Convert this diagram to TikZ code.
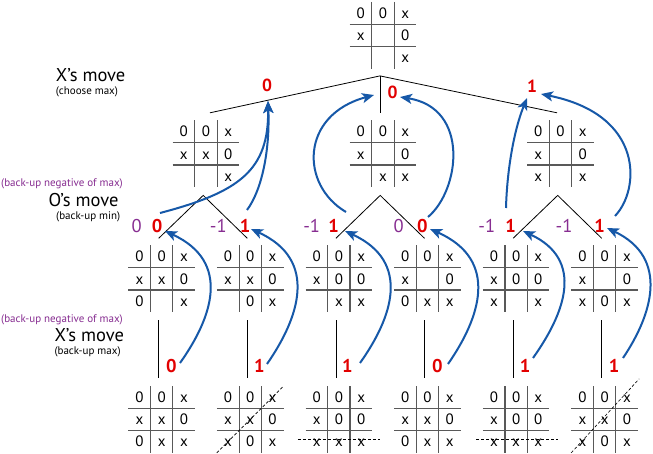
\documentclass[tikz,border=0pt]{standalone}
\usepackage{fontspec}
\setmainfont{PT Sans}
\usetikzlibrary{arrows.meta,calc}
\definecolor{valred}{RGB}{226,0,0}
\definecolor{negpurple}{RGB}{135,45,145}
\definecolor{arrowblue}{RGB}{22,88,168}
\tikzset{
  boardbox/.style={inner sep=0pt,minimum size=66.7pt},
  gridline/.style={draw=black!65,line width=1.2pt},
  cell/.style={anchor=base,inner sep=0pt,font=\fontsize{15}{17}\selectfont},
  treeline/.style={draw=black,line width=0.8pt},
  redval/.style={anchor=base,inner sep=0pt,text=valred,font=\bfseries\fontsize{18.5}{20}\selectfont},
  topval/.style={redval,font=\bfseries\fontsize{17.5}{20}\selectfont},
  negval/.style={anchor=base,inner sep=0pt,text=negpurple,font=\fontsize{18.5}{20}\selectfont},
  lvlbig/.style={anchor=base west,inner sep=0pt,font=\fontsize{18.5}{20}\selectfont},
  lvlsmall/.style={anchor=base west,inner sep=0pt,font=\fontsize{11}{12}\selectfont},
  lvlneg/.style={anchor=base west,inner sep=0pt,text=negpurple,font=\fontsize{11}{12}\selectfont},
  backup/.style={draw=arrowblue,line width=2pt,-{Stealth[length=12pt,width=10pt,inset=3pt]}},
  winline/.style={draw=black,line width=0.6pt,dash pattern=on 3pt off 2pt}
}
\newcommand\tttb[4]{%
  \begin{scope}[shift={(#2,#3)}]
    \node[boardbox] (#1) at (0,33.35) {};
    \draw[gridline] (-11.12,0) -- (-11.12,66.7) (11.12,0) -- (11.12,66.7)
      (-33.35,22.23) -- (33.35,22.23) (-33.35,44.47) -- (33.35,44.47);
    \foreach \a/\b/\c [count=\r] in {#4} {
      \node[cell] (#1-\r-1) at (-22.23,\r*22.23-5.8) {\a};
      \node[cell] (#1-\r-2) at (0,\r*22.23-5.8) {\b};
      \node[cell] (#1-\r-3) at (22.23,\r*22.23-5.8) {\c};
    }
  \end{scope}}
\begin{document}
\begin{tikzpicture}[x=1pt,y=-1pt]
\path[fill=white,use as bounding box] (0,0) rectangle (653,454);

% boards
\tttb{T}{383}{2}{0/0/x, x/{}/0, {}/{}/x}
\tttb{b21}{206}{120.5}{0/0/x, x/x/0, {}/{}/x}
\tttb{b22}{383}{120.5}{0/0/x, x/{}/0, {}/x/x}
\tttb{b23}{560.5}{120.5}{0/0/x, x/{}/0, x/{}/x}
\tttb{b41}{161.7}{245.5}{0/0/x, x/x/0, 0/{}/x}
\tttb{b42}{250.3}{245.5}{0/0/x, x/x/0, {}/0/x}
\tttb{b43}{338.9}{245.5}{0/0/x, x/0/0, {}/x/x}
\tttb{b44}{427.5}{245.5}{0/0/x, x/{}/0, 0/x/x}
\tttb{b45}{516.1}{245.5}{0/0/x, x/0/0, x/{}/x}
\tttb{b46}{604.7}{245.5}{0/0/x, x/{}/0, x/0/x}
\tttb{b61}{161.7}{386}{0/0/x, x/x/0, 0/x/x}
\tttb{b62}{250.3}{386}{0/0/x, x/x/0, x/0/x}
\tttb{b63}{338.9}{386}{0/0/x, x/0/0, x/x/x}
\tttb{b64}{427.5}{386}{0/0/x, x/x/0, 0/x/x}
\tttb{b65}{516.1}{386}{0/0/x, x/0/0, x/x/x}
\tttb{b66}{604.7}{386}{0/0/x, x/x/0, x/0/x}

% winning lines
\draw[winline] (b62.south west) -- (b62.north east);
\draw[winline] (b66.south west) -- ($(b66.north east)+(1,-7)$);
\draw[winline] ($(b63.south west)+(-7.5,-13.2)$) -- ($(b63.south east)+(7.5,-13.2)$);
\draw[winline] ($(b65.south west)+(-6.5,-13.2)$) -- ($(b65.south east)+(8.5,-13.2)$);

% level 1 tree
\coordinate (a0) at ($(T.south)+(-3,7)$);
\draw[treeline] ($(b21.north)+(4,-7.5)$) -- (a0) -- ($(b23.north)+(-3.5,-7.5)$);
\draw[treeline] (a0) -- ($(b22.north)+(-3,-7.5)$);

% level 3 trees
\foreach \p/\l/\r in {b21/b41/b42, b22/b43/b44, b23/b45/b46} {
  \draw[treeline] ($(\l.north)+(-3,-7)$) -- ($(\p.south)+(-2.8,8)$) -- ($(\r.north)+(-3,-7)$);
}
% level 5 lines
\foreach \u/\d in {b41/b61, b42/b62, b43/b63, b44/b64, b45/b65, b46/b66} {
  \draw[treeline] ($(\u.south)+(-3,8)$) -- ($(\d.north)+(-3,-8)$);
}

% values, level 1
\node[topval] (v1a) at (267,91.5) {0};
\node[topval] (v1b) at (392.7,99) {0};
\node[topval] (v1c) at (532,92.2) {1};
% values, level 3
\node[negval] (n3a) at (136.7,233) {0};
\node[redval] (v3a) at (157,233) {0};
\node[negval] (n3b) at (218.3,233) {-1};
\node[redval] (v3b) at (245,233) {1};
\node[negval] (n3c) at (311.7,233) {-1};
\node[redval] (v3c) at (333.7,233) {1};
\node[negval] (n3d) at (398.7,233) {0};
\node[redval] (v3d) at (422.3,233) {0};
\node[negval] (n3e) at (486.8,233) {-1};
\node[redval] (v3e) at (510.5,233) {1};
\node[negval] (n3f) at (564,233) {-1};
\node[redval] (v3f) at (599.5,233) {1};
% values, level 5
\node[redval] (v5a) at (171.3,372.2) {0};
\node[redval] (v5b) at (259.3,372.2) {1};
\node[redval] (v5c) at (347.3,372.2) {1};
\node[redval] (v5d) at (437.3,372.2) {0};
\node[redval] (v5e) at (525,372.2) {1};
\node[redval] (v5f) at (614,372.2) {1};

% level captions
\node[lvlbig] (cap1) at (55.7,81.7) {X’s move};
\node[lvlsmall] (cap1s) at (55.7,94.5) {(choose max)};
\node[lvlneg] (cap2n) at (1,186.5) {(back-up negative of max)};
\node[lvlbig] (cap2) at (48.3,206.7) {O’s move};
\node[lvlsmall] (cap2s) at (56,219.5) {(back-up min)};
\node[lvlneg] (cap3n) at (1,322.5) {(back-up negative of max)};
\node[lvlbig] (cap3) at (54.3,341.7) {X’s move};
\node[lvlsmall] (cap3s) at (54.3,354.7) {(back-up max)};

% arrow end points
\coordinate (s5a) at (180,363);   \coordinate (e5a) at (165,231);
\coordinate (s5b) at (267,364);   \coordinate (e5b) at (251,229);
\coordinate (s5c) at (360,363);   \coordinate (e5c) at (345,231);
\coordinate (s5d) at (448,364);   \coordinate (e5d) at (430,229);
\coordinate (s5e) at (533,358);   \coordinate (e5e) at (523,231);
\coordinate (s5f) at (623,358);   \coordinate (e5f) at (607,228);
\coordinate (s3a) at (160,213);   \coordinate (e1a) at (268,101);
\coordinate (s3b) at (247,210);
\coordinate (s3c) at (346,212);   \coordinate (e1b) at (374,95);
\coordinate (s3d) at (428,217);   \coordinate (e1c) at (400,97);
\coordinate (s3e) at (506,208);   \coordinate (e1d) at (527,98);
\coordinate (s3f) at (615,216);   \coordinate (e1e) at (541,94);

% back-up arrows, level 5 -> level 3
\draw[backup] (s5a) .. controls (212,318) and (232,262) .. (e5a);
\draw[backup] (s5b) .. controls (299,318) and (319,260) .. (e5b);
\draw[backup] (s5c) .. controls (392,318) and (412,262) .. (e5c);
\draw[backup] (s5d) .. controls (480,318) and (500,260) .. (e5d);
\draw[backup] (s5e) .. controls (565,313) and (585,260) .. (e5e);
\draw[backup] (s5f) .. controls (652,315) and (670,258) .. (e5f);
% back-up arrows, level 3 -> level 1
\draw[backup] (s3a) .. controls (240,192) and (269,170) .. (e1a);
\draw[backup] (s3b) .. controls (262,190) and (270,150) .. (e1a);
\draw[backup] (s3c) .. controls (300,185) and (300,115) .. (e1b);
\draw[backup] (s3d) .. controls (460,190) and (470,108) .. (e1c);
\draw[backup] (s3e) .. controls (507,170) and (514,130) .. (e1d);
\draw[backup] (s3f) .. controls (640,190) and (645,115) .. (e1e);
\end{tikzpicture}
\end{document}
